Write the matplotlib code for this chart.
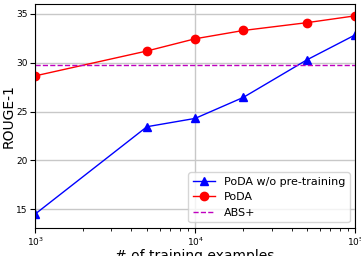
import matplotlib
matplotlib.use('Agg')
import matplotlib.pyplot as plt

n_examples = [1000, 5000, 10000, 20000, 50000, 100000]
poda_no_pretrain = [14.5, 23.45, 24.3, 26.45, 30.3, 32.85]
poda = [28.65, 31.2, 32.45, 33.3, 34.1, 34.8]
abs_plus = 29.8

fig, ax = plt.subplots(figsize=(3.61, 2.56), dpi=100)
ax.plot(n_examples, poda_no_pretrain, color='blue', marker='^', markersize=6,
        linewidth=1, label='PoDA w/o pre-training')
ax.plot(n_examples, poda, color='red', marker='o', markersize=6,
        linewidth=1, label='PoDA')
ax.axhline(abs_plus, color='m', linestyle='--', linewidth=1, label='ABS+')

ax.set_xscale('log')
ax.set_xlim(1e3, 1e5)
ax.set_ylim(13.1, 36)
ax.set_yticks([15, 20, 25, 30, 35])
ax.grid(True, which='major', color='#c8c8c8', linewidth=1)
ax.set_axisbelow(True)
ax.tick_params(axis='both', labelsize=6.5, pad=2)
ax.set_xlabel('# of training examples', fontsize=10, labelpad=1)
ax.set_ylabel('ROUGE-1', fontsize=10)
ax.yaxis.set_label_coords(-0.062, 0.5)
ax.legend(loc='lower right', fontsize=8)

plt.subplots_adjust(left=0.097, right=0.984, top=0.984, bottom=0.11)
plt.savefig('out.png')
